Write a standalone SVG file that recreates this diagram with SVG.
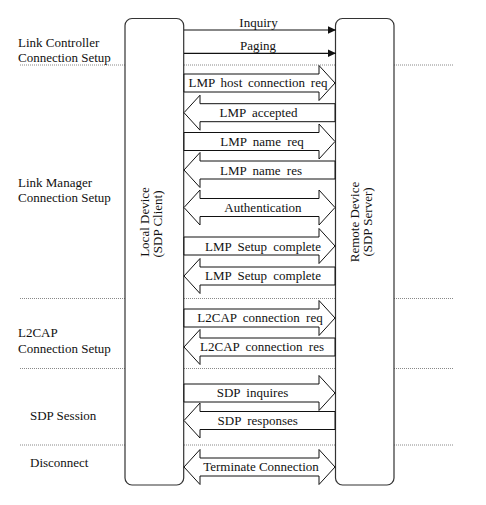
<svg xmlns="http://www.w3.org/2000/svg" xmlns:xlink="http://www.w3.org/1999/xlink" width="486" height="505" viewBox="0 0 486 505">
<style>
text{font-family:'Liberation Serif','Times New Roman',serif;font-size:13px;fill:#111}
.lbl{text-anchor:middle}
.ws{word-spacing:3px}
.box{fill:#fff;stroke:#333;stroke-width:1.2}
.sep{stroke:#888;stroke-width:1;stroke-dasharray:1,1}
.blk{fill:#fff;stroke:#111;stroke-width:1}
.ln{stroke:#111;stroke-width:1.2;fill:none}
</style>
<defs>
<marker id="ah" viewBox="0 0 8 8" refX="8" refY="4" markerWidth="8" markerHeight="8" markerUnits="userSpaceOnUse" orient="auto">
<path d="M0,0.3 L8,4 L0,7.7 Z" fill="#111"/>
</marker>
<path id="ra" class="blk" d="M184,-9 L319,-9 L319,-17.5 L335,0 L319,17.5 L319,9 L184,9 Z"/>
<path id="la" class="blk" d="M335,-9 L200,-9 L200,-17.5 L184,0 L200,17.5 L200,9 L335,9 Z"/>
<path id="da" class="blk" d="M184,0 L200,-17.5 L200,-9 L319,-9 L319,-17.5 L335,0 L319,17.5 L319,9 L200,9 L200,17.5 Z"/>
</defs>
<rect width="486" height="505" fill="#fff"/>
<g id="separators">
<line class="sep" x1="20" y1="65" x2="453" y2="65"/>
<line class="sep" x1="20" y1="298.5" x2="453" y2="298.5"/>
<line class="sep" x1="20" y1="368.5" x2="453" y2="368.5"/>
<line class="sep" x1="20" y1="445" x2="453" y2="445"/>
</g>
<g id="phases" font-family="Liberation Serif, serif">
<text x="18" y="47">Link Controller</text>
<text x="18" y="62">Connection Setup</text>
<text x="18" y="187">Link Manager</text>
<text x="18" y="202">Connection Setup</text>
<text x="18" y="337">L2CAP</text>
<text x="18" y="353">Connection Setup</text>
<text x="30" y="419.5">SDP Session</text>
<text x="30" y="467">Disconnect</text>
</g>
<g id="local-device">
<rect class="box" x="125" y="18.5" width="58.7" height="466.5" rx="7" ry="7"/>
<text class="lbl" transform="translate(149,222) rotate(-90)">Local Device</text>
<text class="lbl" transform="translate(162,224) rotate(-90)">(SDP Client)</text>
</g>
<g id="remote-device">
<rect class="box" x="335.5" y="18.5" width="58.5" height="466.5" rx="7" ry="7"/>
<text class="lbl" transform="translate(359,222) rotate(-90)">Remote Device</text>
<text class="lbl" transform="translate(372,222) rotate(-90)">(SDP Server)</text>
</g>
<g id="connectors">
<line class="ln" x1="184" y1="30" x2="336" y2="30" marker-end="url(#ah)"/>
<line class="ln" x1="184" y1="53.3" x2="336" y2="53.3" marker-end="url(#ah)"/>
<use xlink:href="#ra" transform="translate(0,83)"/>
<use xlink:href="#la" transform="translate(0,112.7)"/>
<use xlink:href="#ra" transform="translate(0,141.5)"/>
<use xlink:href="#la" transform="translate(0,170)"/>
<use xlink:href="#da" transform="translate(0,207.5)"/>
<use xlink:href="#ra" transform="translate(0,246)"/>
<use xlink:href="#la" transform="translate(0,276)"/>
<use xlink:href="#ra" transform="translate(0,318)"/>
<use xlink:href="#la" transform="translate(0,347)"/>
<use xlink:href="#ra" transform="translate(0,393)"/>
<use xlink:href="#la" transform="translate(0,420.5)"/>
<use xlink:href="#da" transform="translate(0,467)"/>
</g>
<g id="connector-labels">
<text class="lbl" x="258.5" y="26.7">Inquiry</text>
<text class="lbl" x="258" y="50">Paging</text>
<text class="lbl" x="258" y="87" style="word-spacing:2.5px">LMP host connection req</text>
<text class="lbl ws" x="258.5" y="116.7">LMP accepted</text>
<text class="lbl ws" x="262" y="145.5">LMP name req</text>
<text class="lbl ws" x="261" y="174.5">LMP name res</text>
<text class="lbl" x="263" y="211.7">Authentication</text>
<text class="lbl ws" x="263" y="250.5">LMP Setup complete</text>
<text class="lbl ws" x="263" y="279.5">LMP Setup complete</text>
<text class="lbl ws" x="260" y="322.3">L2CAP connection req</text>
<text class="lbl ws" x="262" y="350.7">L2CAP connection res</text>
<text class="lbl ws" x="252.5" y="396.5">SDP inquires</text>
<text class="lbl ws" x="257.7" y="425">SDP responses</text>
<text class="lbl" x="261" y="470.5">Terminate Connection</text>
</g>
</svg>
